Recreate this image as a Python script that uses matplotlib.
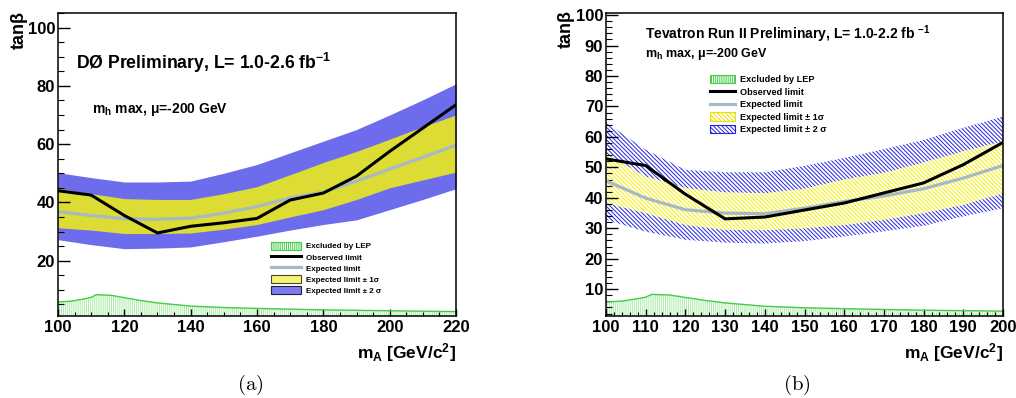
import matplotlib
matplotlib.use("Agg")
import matplotlib.pyplot as plt
from matplotlib.patches import Patch
from matplotlib.lines import Line2D
from matplotlib.ticker import MultipleLocator

plt.rcParams['font.family'] = ['Liberation Sans', 'DejaVu Sans']
plt.rcParams['font.weight'] = 'bold'
plt.rcParams['axes.labelweight'] = 'bold'
plt.rcParams['mathtext.fontset'] = 'custom'
plt.rcParams['mathtext.rm'] = 'Liberation Sans:bold'
plt.rcParams['mathtext.it'] = 'Liberation Sans:bold'
plt.rcParams['mathtext.bf'] = 'Liberation Sans:bold'
plt.rcParams['mathtext.default'] = 'rm'
plt.rcParams['hatch.linewidth'] = 0.7

# --- panel (a): D0 ---
ma_a = [100, 110, 120, 130, 140, 150, 160, 170, 180, 190, 200, 210, 220]
obs_a = [44.0, 42.5, 35.5, 29.5, 31.8, 33.0, 34.5, 40.8, 43.2, 49.0, 57.5, 65.5, 73.5]
exp_a = [36.8, 35.5, 34.4, 34.2, 34.6, 36.3, 38.6, 41.5, 43.5, 47.3, 51.4, 55.5, 59.6]
s1_hi_a = [44.8, 43.0, 41.3, 41.0, 41.0, 43.0, 45.4, 49.5, 53.7, 57.5, 61.7, 66.0, 70.0]
s1_lo_a = [31.3, 30.5, 29.3, 29.3, 29.5, 30.8, 32.4, 35.0, 37.5, 41.0, 45.0, 47.7, 50.4]
s2_hi_a = [50.2, 48.5, 47.0, 47.0, 47.3, 50.0, 53.0, 57.0, 61.0, 65.0, 70.0, 75.2, 80.7]
s2_lo_a = [27.2, 25.5, 24.1, 24.3, 24.7, 26.5, 28.4, 30.5, 32.4, 34.0, 37.5, 41.0, 44.7]

# --- panel (b): Tevatron combination ---
ma_b = [100, 110, 120, 130, 140, 150, 160, 170, 180, 190, 200]
obs_b = [52.8, 50.6, 41.2, 33.1, 33.7, 36.0, 38.3, 41.6, 44.9, 50.9, 58.2]
exp_b = [45.6, 39.9, 36.1, 35.0, 34.8, 36.6, 38.8, 40.6, 43.0, 46.5, 50.6]
s1_hi_b = [54.5, 47.0, 43.2, 41.8, 41.5, 43.0, 46.0, 48.2, 51.6, 55.3, 58.5]
s1_lo_b = [38.3, 35.0, 31.1, 29.5, 29.4, 30.0, 31.1, 32.8, 35.0, 37.7, 41.5]
s2_hi_b = [64.7, 55.8, 49.2, 48.4, 48.4, 50.5, 53.1, 56.0, 59.0, 63.0, 66.7]
s2_lo_b = [32.8, 28.9, 26.2, 25.3, 25.0, 25.8, 27.3, 29.0, 30.8, 33.9, 36.6]

# LEP exclusion (same in both)
lep_ma = [100, 104, 108, 110, 111.5, 116, 120, 125, 130, 140, 150, 160, 180, 200, 220]
lep_tb = [5.8, 6.1, 6.9, 7.4, 8.3, 8.1, 7.3, 6.3, 5.5, 4.4, 3.9, 3.6, 3.1, 2.8, 2.5]

fig = plt.figure(figsize=(10.16, 3.98), dpi=100)
axa = fig.add_axes([58/1016, 1-316/398, 398/1016, 303/398])
axb = fig.add_axes([606/1016, 1-316/398, 397/1016, 303/398])

lep_col = '#a8eca8'
lep_edge = '#44cc44'
hb = '\\' * 8

# (a)
ya0 = 1.0
axa.fill_between(ma_a, s2_lo_a, s2_hi_a, color='#6c6cec', lw=0)
axa.fill_between(ma_a, s1_lo_a, s1_hi_a, color='#dcdc34', lw=0)
axa.fill_between(lep_ma, ya0, lep_tb, facecolor='white', edgecolor=lep_col, hatch='||||||||', lw=0)
axa.plot(lep_ma, lep_tb, color=lep_edge, lw=1)
axa.plot(ma_a, exp_a, color='#a8b8c4', lw=2.3)
axa.plot(ma_a, obs_a, color='black', lw=2.2)
axa.set_xlim(100, 220)
axa.set_ylim(ya0, 105)
axa.xaxis.set_major_locator(MultipleLocator(20))
axa.xaxis.set_minor_locator(MultipleLocator(5))
axa.yaxis.set_major_locator(MultipleLocator(20))
axa.yaxis.set_minor_locator(MultipleLocator(5))

# (b)
yb0 = 1.2
axb.fill_between(ma_b, s2_lo_b, s2_hi_b, facecolor='white', edgecolor='#2424e0', hatch=hb, lw=0)
axb.fill_between(ma_b, s1_lo_b, s1_hi_b, facecolor='white', edgecolor='#f4f000', hatch=hb, lw=0)
axb.fill_between(lep_ma, yb0, lep_tb, facecolor='white', edgecolor=lep_col, hatch='||||||||', lw=0)
axb.plot(lep_ma, lep_tb, color=lep_edge, lw=1)
axb.plot(ma_b, exp_b, color='#a8b8c4', lw=2.3)
axb.plot(ma_b, obs_b, color='black', lw=2.2)
axb.set_xlim(100, 200)
axb.set_ylim(yb0, 100.7)
axb.xaxis.set_major_locator(MultipleLocator(10))
axb.xaxis.set_minor_locator(MultipleLocator(2))
axb.yaxis.set_major_locator(MultipleLocator(10))
axb.yaxis.set_minor_locator(MultipleLocator(2))

for ax in (axa, axb):
    ax.tick_params(axis='y', which='major', direction='in', length=8.6, width=1, labelsize=12, pad=2)
    ax.tick_params(axis='y', which='minor', direction='in', length=4.3, width=0.8)
    ax.tick_params(axis='x', which='major', direction='in', length=5, width=1, labelsize=12, pad=3)
    ax.tick_params(axis='x', which='minor', direction='in', length=2.9, width=0.8)
    for sp in ax.spines.values():
        sp.set_linewidth(1.1)
    ax.set_xlabel(r'm$_\mathregular{A}$ [GeV/c$^\mathregular{2}$]', fontsize=12.5, fontweight='bold',
                  ha='right', x=1.0, labelpad=4)

fig.text(19/1016, 1-30/398, 'tanβ', rotation=90, ha='center', va='center', fontsize=13)
fig.text(566/1016, 1-29/398, 'tanβ', rotation=90, ha='center', va='center', fontsize=13)

axa.text(0.046, 0.835, r'DØ Preliminary, L= 1.0-2.6 fb$^{-1}$', transform=axa.transAxes,
         fontsize=12.7, va='center', ha='left')
axa.text(0.085, 0.68, r'm$_\mathregular{h}$ max, μ=-200 GeV', transform=axa.transAxes,
         fontsize=10, va='center', ha='left')
axb.text(0.098, 0.93, r'Tevatron Run II Preliminary, L= 1.0-2.2 fb $^{-1}$', transform=axb.transAxes,
         fontsize=10, va='center', ha='left')
axb.text(0.098, 0.865, r'm$_\mathregular{h}$ max, μ=-200 GeV', transform=axb.transAxes,
         fontsize=9, va='center', ha='left')

labels = ['Excluded by LEP', 'Observed limit', 'Expected limit',
          'Expected limit ± 1σ', 'Expected limit ± 2 σ']

h_a = [Patch(facecolor='white', edgecolor=lep_edge, hatch='||||||||', lw=0.8),
       Line2D([], [], color='black', lw=2.2),
       Line2D([], [], color='#a8b8c4', lw=2.3),
       Patch(facecolor='#f4f47a', edgecolor='#4a4a20', lw=0.8),
       Patch(facecolor='#7c7cf0', edgecolor='#202040', lw=0.8)]
axa.legend(h_a, labels, loc='upper left', bbox_to_anchor=(0.535, 0.245), frameon=False,
           fontsize=5.8, handlelength=3.7, handleheight=1.15, handletextpad=0.6,
           labelspacing=0.3, borderpad=0, borderaxespad=0)

h_b = [Patch(facecolor='white', edgecolor=lep_edge, hatch='||||||||', lw=0.8),
       Line2D([], [], color='black', lw=2.2),
       Line2D([], [], color='#a8b8c4', lw=2.3),
       Patch(facecolor='white', edgecolor='#e8e000', hatch=hb, lw=0.8),
       Patch(facecolor='white', edgecolor='#2424e0', hatch=hb, lw=0.8)]
axb.legend(h_b, labels, loc='upper left', bbox_to_anchor=(0.262, 0.795), frameon=False,
           fontsize=6.6, handlelength=2.7, handleheight=1.0, handletextpad=0.6,
           labelspacing=0.35, borderpad=0, borderaxespad=0)

fig.text(250/1016, 1-385/398, r'$\mathrm{(a)}$', math_fontfamily='cm', fontsize=15, ha='center', va='center')
fig.text(797/1016, 1-385/398, r'$\mathrm{(b)}$', math_fontfamily='cm', fontsize=15, ha='center', va='center')

fig.savefig('out.png', dpi=100)
